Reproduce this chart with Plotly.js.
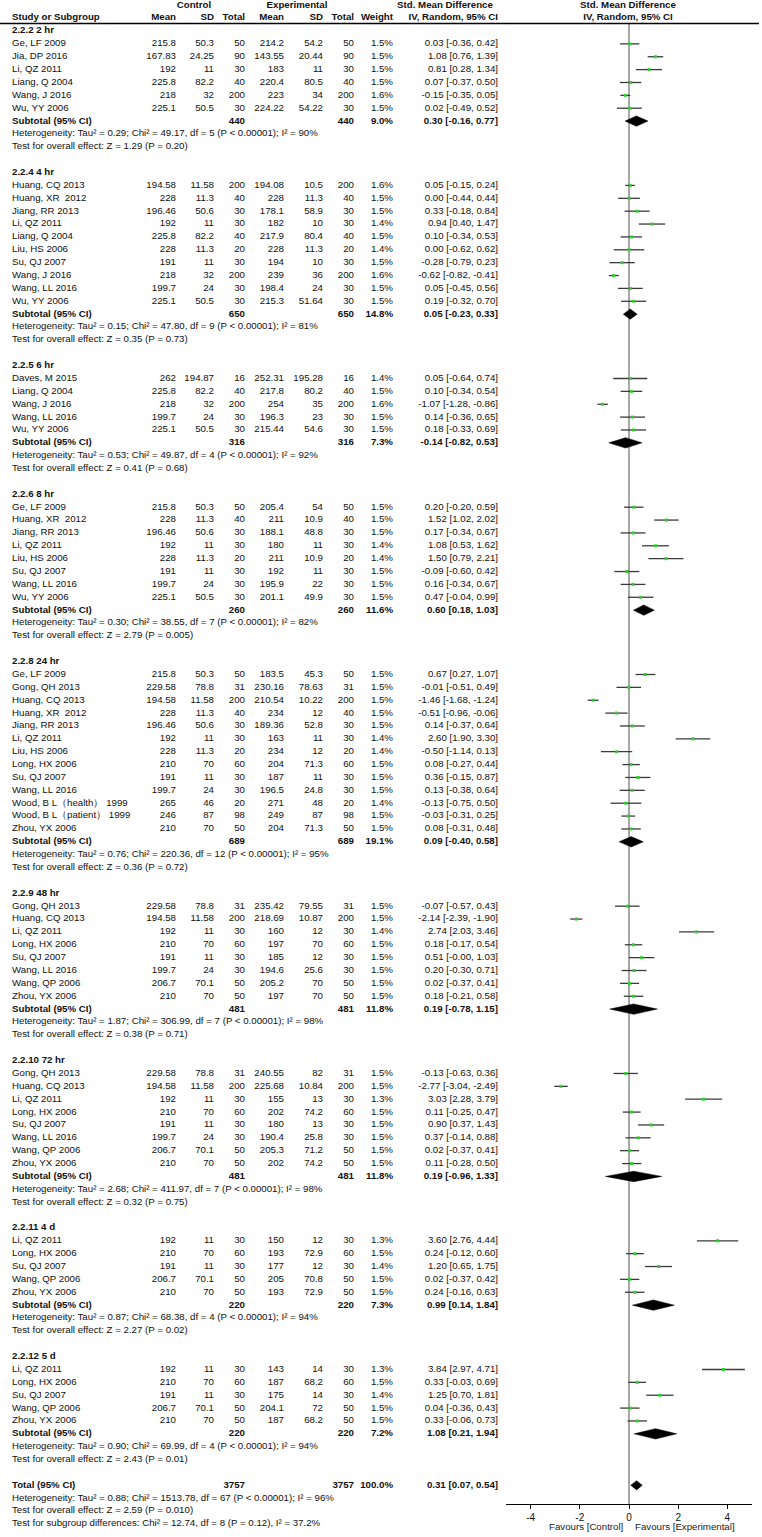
<!DOCTYPE html>
<html><head><meta charset="utf-8">
<script src="https://cdn.plot.ly/plotly-3.0.1.min.js"></script>
<style>html,body{margin:0;padding:0;background:#fff}#chart{width:762px;height:1537px}</style>
</head><body><div id="chart"></div>
<script>
// ---------------- DATA ----------------
const subgroupLabels = ["2.2.2 2 hr","2.2.4 4 hr","2.2.5 6 hr","2.2.6 8 hr","2.2.8 24 hr","2.2.9 48 hr","2.2.10 72 hr","2.2.11 4 d","2.2.12 5 d"];

const studyGroup = [
 0,0,0,0,0,0,
 1,1,1,1,1,1,1,1,1,1,
 2,2,2,2,2,
 3,3,3,3,3,3,3,3,
 4,4,4,4,4,4,4,4,4,4,4,4,4,
 5,5,5,5,5,5,5,5,
 6,6,6,6,6,6,6,6,
 7,7,7,7,7,
 8,8,8,8,8];

const studyNames = [
 "Ge, LF 2009","Jia, DP 2016","Li, QZ 2011","Liang, Q 2004","Wang, J 2016","Wu, YY 2006",
 "Huang, CQ 2013","Huang, XR  2012","Jiang, RR 2013","Li, QZ 2011","Liang, Q 2004","Liu, HS 2006","Su, QJ 2007","Wang, J 2016","Wang, LL 2016","Wu, YY 2006",
 "Daves, M 2015","Liang, Q 2004","Wang, J 2016","Wang, LL 2016","Wu, YY 2006",
 "Ge, LF 2009","Huang, XR  2012","Jiang, RR 2013","Li, QZ 2011","Liu, HS 2006","Su, QJ 2007","Wang, LL 2016","Wu, YY 2006",
 "Ge, LF 2009","Gong, QH 2013","Huang, CQ 2013","Huang, XR  2012","Jiang, RR 2013","Li, QZ 2011","Liu, HS 2006","Long, HX 2006","Su, QJ 2007","Wang, LL 2016","Wood, B L（health） 1999","Wood, B L（patient） 1999","Zhou, YX 2006",
 "Gong, QH 2013","Huang, CQ 2013","Li, QZ 2011","Long, HX 2006","Su, QJ 2007","Wang, LL 2016","Wang, QP 2006","Zhou, YX 2006",
 "Gong, QH 2013","Huang, CQ 2013","Li, QZ 2011","Long, HX 2006","Su, QJ 2007","Wang, LL 2016","Wang, QP 2006","Zhou, YX 2006",
 "Li, QZ 2011","Long, HX 2006","Su, QJ 2007","Wang, QP 2006","Zhou, YX 2006",
 "Li, QZ 2011","Long, HX 2006","Su, QJ 2007","Wang, QP 2006","Zhou, YX 2006"];

const ctrlMean = [
 215.8,167.83,192,225.8,218,225.1,
 194.58,228,196.46,192,225.8,228,191,218,199.7,225.1,
 262,225.8,218,199.7,225.1,
 215.8,228,196.46,192,228,191,199.7,225.1,
 215.8,229.58,194.58,228,196.46,192,228,210,191,199.7,265,246,210,
 229.58,194.58,192,210,191,199.7,206.7,210,
 229.58,194.58,192,210,191,199.7,206.7,210,
 192,210,191,206.7,210,
 192,210,191,206.7,210];
const ctrlSD = [
 50.3,24.25,11,82.2,32,50.5,
 11.58,11.3,50.6,11,82.2,11.3,11,32,24,50.5,
 194.87,82.2,32,24,50.5,
 50.3,11.3,50.6,11,11.3,11,24,50.5,
 50.3,78.8,11.58,11.3,50.6,11,11.3,70,11,24,46,87,70,
 78.8,11.58,11,70,11,24,70.1,70,
 78.8,11.58,11,70,11,24,70.1,70,
 11,70,11,70.1,70,
 11,70,11,70.1,70];
const ctrlN = [
 50,90,30,40,200,30,
 200,40,30,30,40,20,30,200,30,30,
 16,40,200,30,30,
 50,40,30,30,20,30,30,30,
 50,31,200,40,30,30,20,60,30,30,20,98,50,
 31,200,30,60,30,30,50,50,
 31,200,30,60,30,30,50,50,
 30,60,30,50,50,
 30,60,30,50,50];
const expMean = [
 214.2,143.55,183,220.4,223,224.22,
 194.08,228,178.1,182,217.9,228,194,239,198.4,215.3,
 252.31,217.8,254,196.3,215.44,
 205.4,211,188.1,180,211,192,195.9,201.1,
 183.5,230.16,210.54,234,189.36,163,234,204,187,196.5,271,249,204,
 235.42,218.69,160,197,185,194.6,205.2,197,
 240.55,225.68,155,202,180,190.4,205.3,202,
 150,193,177,205,193,
 143,187,175,204.1,187];
const expSD = [
 54.2,20.44,11,80.5,34,54.22,
 10.5,11.3,58.9,10,80.4,11.3,10,36,24,51.64,
 195.28,80.2,35,23,54.6,
 54,10.9,48.8,11,10.9,11,22,49.9,
 45.3,78.63,10.22,12,52.8,11,12,71.3,11,24.8,48,87,71.3,
 79.55,10.87,12,70,12,25.6,70,70,
 82,10.84,13,74.2,13,25.8,71.2,74.2,
 12,72.9,12,70.8,72.9,
 14,68.2,14,72,68.2];
const expN = ctrlN.slice();
const weightPct = [
 1.5,1.5,1.5,1.5,1.6,1.5,
 1.6,1.5,1.5,1.4,1.5,1.4,1.5,1.6,1.5,1.5,
 1.4,1.5,1.6,1.5,1.5,
 1.5,1.5,1.5,1.4,1.4,1.5,1.5,1.5,
 1.5,1.5,1.5,1.5,1.5,1.4,1.4,1.5,1.5,1.5,1.4,1.5,1.5,
 1.5,1.5,1.4,1.5,1.5,1.5,1.5,1.5,
 1.5,1.5,1.3,1.5,1.5,1.5,1.5,1.5,
 1.3,1.5,1.4,1.5,1.5,
 1.3,1.5,1.4,1.5,1.5];
const smd = [
 0.03,1.08,0.81,0.07,-0.15,0.02,
 0.05,0.00,0.33,0.94,0.10,0.00,-0.28,-0.62,0.05,0.19,
 0.05,0.10,-1.07,0.14,0.18,
 0.20,1.52,0.17,1.08,1.50,-0.09,0.16,0.47,
 0.67,-0.01,-1.46,-0.51,0.14,2.60,-0.50,0.08,0.36,0.13,-0.13,-0.03,0.08,
 -0.07,-2.14,2.74,0.18,0.51,0.20,0.02,0.18,
 -0.13,-2.77,3.03,0.11,0.90,0.37,0.02,0.11,
 3.60,0.24,1.20,0.02,0.24,
 3.84,0.33,1.25,0.04,0.33];
const ciLow = [
 -0.36,0.76,0.28,-0.37,-0.35,-0.49,
 -0.15,-0.44,-0.18,0.40,-0.34,-0.62,-0.79,-0.82,-0.45,-0.32,
 -0.64,-0.34,-1.28,-0.36,-0.33,
 -0.20,1.02,-0.34,0.53,0.79,-0.60,-0.34,-0.04,
 0.27,-0.51,-1.68,-0.96,-0.37,1.90,-1.14,-0.27,-0.15,-0.38,-0.75,-0.31,-0.31,
 -0.57,-2.39,2.03,-0.17,-0,-0.30,-0.37,-0.21,
 -0.63,-3.04,2.28,-0.25,0.37,-0.14,-0.37,-0.28,
 2.76,-0.12,0.65,-0.37,-0.16,
 2.97,-0.03,0.70,-0.36,-0.06];
const ciHigh = [
 0.42,1.39,1.34,0.50,0.05,0.52,
 0.24,0.44,0.84,1.47,0.53,0.62,0.23,-0.41,0.56,0.70,
 0.74,0.54,-0.86,0.65,0.69,
 0.59,2.02,0.67,1.62,2.21,0.42,0.67,0.99,
 1.07,0.49,-1.24,-0.06,0.64,3.30,0.13,0.44,0.87,0.64,0.50,0.25,0.48,
 0.43,-1.90,3.46,0.54,1.03,0.71,0.41,0.58,
 0.36,-2.49,3.79,0.47,1.43,0.88,0.41,0.50,
 4.44,0.60,1.75,0.42,0.63,
 4.71,0.69,1.81,0.43,0.73];

const subN      = [440,650,316,260,689,481,481,220,220];
const subWeight = [9.0,14.8,7.3,11.6,19.1,11.8,11.8,7.3,7.2];
const subSMD    = [0.30,0.05,-0.14,0.60,0.09,0.19,0.19,0.99,1.08];
const subLow    = [-0.16,-0.23,-0.82,0.18,-0.40,-0.78,-0.96,0.14,0.21];
const subHigh   = [0.77,0.33,0.53,1.03,0.58,1.15,1.33,1.84,1.94];
const hetTau    = [0.29,0.15,0.53,0.30,0.76,1.87,2.68,0.87,0.90];
const hetChi    = [49.17,47.80,49.87,38.55,220.36,306.99,411.97,68.38,69.99];
const hetDf     = [5,9,4,7,12,7,7,4,4];
const hetI2     = [90,81,92,82,95,98,98,94,94];
const testZ     = [1.29,0.35,0.41,2.79,0.36,0.38,0.32,2.27,2.43];
const testP     = ["0.20","0.73","0.68","0.005","0.72","0.71","0.75","0.02","0.01"];

const totalN = 3757, totalWeight = 100.0, totalSMD = 0.31, totalLow = 0.07, totalHigh = 0.54;
const totalTau = 0.88, totalChi = 1513.78, totalDf = 67, totalI2 = 96, totalZ = 2.59, totalP = "0.010";
const sgChi = 12.74, sgDf = 8, sgP = "0.12", sgI2 = 37.2;

const tickVals = [-4,-2,0,2,4];
const tickLabels = ["-4","-2","0","2","4"];

// ---------------- LAYOUT HELPERS ----------------
const W = 762, H = 1537;
const FONT = "Liberation Sans, Arial, sans-serif";
const FS = 9.7;
const ROW0 = 31, ROWH = 12.87;
const AXIS_Y = 1504;
const rowY = i => ROW0 + i * ROWH;
const col = {study:12, cMean:176, cSD:214, cN:245, eMean:284, eSD:323, eN:354, w:393, ci:498};

function f2(v){ return Object.is(v,-0) ? "-0.00" : v.toFixed(2); }
function ciText(m,l,h){ return f2(m) + " [" + f2(l) + ", " + f2(h) + "]"; }

const buckets = {};
function txt(x, y, t, align, bold){
  const key = align + (bold ? "_b" : "_n");
  if(!buckets[key]) buckets[key] = {x:[], y:[], text:[], align, bold};
  buckets[key].x.push(x); buckets[key].y.push(y); buckets[key].text.push(t);
}

// headers
txt(194, 6, "Control", "c", true);
txt(297, 6, "Experimental", "c", true);
txt(445, 6, "Std. Mean Difference", "c", true);
txt(628, 6, "Std. Mean Difference", "c", true);
txt(col.study, 18, "Study or Subgroup", "l", true);
txt(col.cMean, 18, "Mean", "r", true);
txt(col.cSD, 18, "SD", "r", true);
txt(col.cN, 18, "Total", "r", true);
txt(col.eMean, 18, "Mean", "r", true);
txt(col.eSD, 18, "SD", "r", true);
txt(col.eN, 18, "Total", "r", true);
txt(col.w, 18, "Weight", "r", true);
txt(col.ci, 18, "IV, Random, 95% CI", "r", true);
txt(628, 18, "IV, Random, 95% CI", "c", true);

const studyY = [];
const subY = [];
let r = 0;
for(let g = 0; g < subgroupLabels.length; g++){
  txt(col.study, rowY(r), subgroupLabels[g], "l", true); r++;
  for(let i = 0; i < studyNames.length; i++){
    if(studyGroup[i] !== g) continue;
    const y = rowY(r); studyY[i] = y;
    txt(col.study, y, studyNames[i], "l", false);
    txt(col.cMean, y, String(ctrlMean[i]), "r", false);
    txt(col.cSD, y, String(ctrlSD[i]), "r", false);
    txt(col.cN, y, String(ctrlN[i]), "r", false);
    txt(col.eMean, y, String(expMean[i]), "r", false);
    txt(col.eSD, y, String(expSD[i]), "r", false);
    txt(col.eN, y, String(expN[i]), "r", false);
    txt(col.w, y, weightPct[i].toFixed(1) + "%", "r", false);
    txt(col.ci, y, ciText(smd[i], ciLow[i], ciHigh[i]), "r", false);
    r++;
  }
  const ys = rowY(r); subY[g] = ys;
  txt(col.study, ys, "Subtotal (95% CI)", "l", true);
  txt(col.cN, ys, String(subN[g]), "r", true);
  txt(col.eN, ys, String(subN[g]), "r", true);
  txt(col.w, ys, subWeight[g].toFixed(1) + "%", "r", true);
  txt(col.ci, ys, ciText(subSMD[g], subLow[g], subHigh[g]), "r", true);
  r++;
  txt(col.study, rowY(r), "Heterogeneity: Tau² = " + hetTau[g].toFixed(2) + "; Chi² = " + hetChi[g].toFixed(2) +
      ", df = " + hetDf[g] + " (P &lt; 0.00001); I² = " + hetI2[g] + "%", "l", false); r++;
  txt(col.study, rowY(r), "Test for overall effect: Z = " + testZ[g].toFixed(2) + " (P = " + testP[g] + ")", "l", false); r++;
  r++; // blank
}
const totY = rowY(r);
txt(col.study, totY, "Total (95% CI)", "l", true);
txt(col.cN, totY, String(totalN), "r", true);
txt(col.eN, totY, String(totalN), "r", true);
txt(col.w, totY, totalWeight.toFixed(1) + "%", "r", true);
txt(col.ci, totY, ciText(totalSMD, totalLow, totalHigh), "r", true);
r++;
txt(col.study, rowY(r), "Heterogeneity: Tau² = " + totalTau.toFixed(2) + "; Chi² = " + totalChi.toFixed(2) +
    ", df = " + totalDf + " (P &lt; 0.00001); I² = " + totalI2 + "%", "l", false); r++;
txt(col.study, rowY(r), "Test for overall effect: Z = " + totalZ.toFixed(2) + " (P = " + totalP + ")", "l", false); r++;
txt(col.study, rowY(r), "Test for subgroup differences: Chi² = " + sgChi.toFixed(2) + ", df = " + sgDf +
    " (P = " + sgP + "), I² = " + sgI2.toFixed(1) + "%", "l", false);

// ---------------- TRACES ----------------
const traces = [];
const posMap = {l:"middle right", r:"middle left", c:"middle center"};
Object.values(buckets).forEach(b => {
  traces.push({
    type:"scatter", mode:"text", xaxis:"x2", yaxis:"y",
    x:b.x, y:b.y, text:b.text, textposition:posMap[b.align],
    textfont:{family:FONT, size:FS, color:"#111", weight: b.bold ? "bold" : "normal"},
    hoverinfo:"skip", cliponaxis:false
  });
});

// CI lines
const lx = [], ly = [];
for(let i = 0; i < studyNames.length; i++){ lx.push(ciLow[i], ciHigh[i], null); ly.push(studyY[i], studyY[i], null); }
traces.push({type:"scatter", mode:"lines", x:lx, y:ly, xaxis:"x", yaxis:"y",
  line:{color:"#3a3a3a", width:1.3}, hoverinfo:"skip"});
// point estimates
traces.push({type:"scatter", mode:"markers", x:smd, y:studyY, xaxis:"x", yaxis:"y",
  marker:{symbol:"square", size:3, color:"#33cc33", line:{width:0}}, hoverinfo:"skip"});
// diamonds
const DH = 5.2;
const dx = [], dy = [];
function diamond(m, l, h, y, hh){ dx.push(l, m, h, m, l, null); dy.push(y, y - hh, y, y + hh, y, null); }
for(let g = 0; g < subSMD.length; g++) diamond(subSMD[g], subLow[g], subHigh[g], subY[g], DH);
diamond(totalSMD, totalLow, totalHigh, totY, 4.6);
traces.push({type:"scatter", mode:"lines", x:dx, y:dy, xaxis:"x", yaxis:"y",
  fill:"toself", fillcolor:"#000", line:{color:"#000", width:0.5}, hoverinfo:"skip"});

const layout = {
  width:W, height:H, margin:{l:0, r:0, t:0, b:0}, showlegend:false,
  paper_bgcolor:"#fff", plot_bgcolor:"rgba(0,0,0,0)",
  font:{family:FONT, size:FS, color:"#111"},
  xaxis:{domain:[506/W, 752/W], range:[-5,5], anchor:"free", position:(H - AXIS_Y)/H,
    showline:true, linecolor:"#000", linewidth:1, ticks:"outside", ticklen:4, tickcolor:"#000",
    tickvals:tickVals, ticktext:tickLabels, tickfont:{family:FONT, size:10, color:"#111"},
    showgrid:false, zeroline:false, fixedrange:true},
  xaxis2:{domain:[0,1], range:[0,W], visible:false, anchor:"y", fixedrange:true},
  yaxis:{domain:[0,1], range:[H,0], visible:false, fixedrange:true},
  shapes:[
    {type:"line", xref:"x", yref:"y", x0:0, x1:0, y0:23, y1:AXIS_Y, layer:"below",
     line:{color:"#8a8a8a", width:1.5}},
    {type:"line", xref:"x2", yref:"y", x0:0, x1:759, y0:23.5, y1:23.5,
     line:{color:"#000", width:1.5}}
  ],
  annotations:[
    {xref:"x2", yref:"y", x:625, y:1526, text:"Favours [Control]", showarrow:false, xanchor:"right",
     font:{family:FONT, size:FS, color:"#222"}},
    {xref:"x2", yref:"y", x:633, y:1526, text:"Favours [Experimental]", showarrow:false, xanchor:"left",
     font:{family:FONT, size:FS, color:"#222"}}
  ]
};

Plotly.newPlot("chart", traces, layout, {staticPlot:true, displayModeBar:false});
</script>
</body></html>
